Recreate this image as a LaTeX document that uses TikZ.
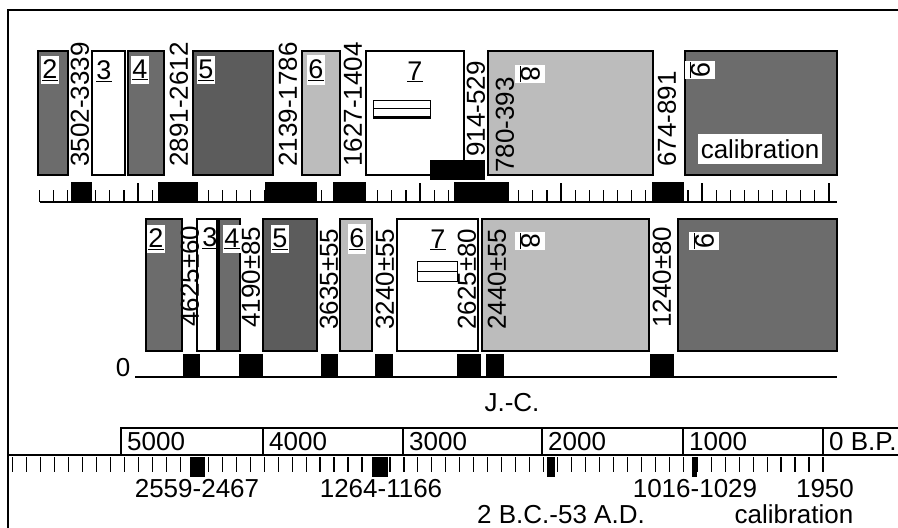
\documentclass[tikz,border=0pt]{standalone}
\usepackage{fontspec}
\setmainfont{Liberation Sans}
\definecolor{shadedark}{RGB}{108, 108, 108}
\definecolor{shadedeep}{RGB}{92, 92, 92}
\definecolor{shadelight}{RGB}{188, 188, 188}
\usepackage{tikz}

\begin{document}
\begin{tikzpicture}[x=1pt, y=-1pt, every node/.style={font=\fontsize{26}{28}\selectfont, inner sep=0pt},
    numlabel/.style={font=\fontsize{27}{30}\selectfont, fill=white, inner xsep=1pt, inner ysep=4pt},
    datelabel/.style={rotate=90, anchor=west}, rowbox/.style={line width=1.5pt}]
        \useasboundingbox (0,0) rectangle (898,528);
        \draw[line width=2pt] (8,528) -- (8,10) -- (898,10);
        % calendar row
        \foreach \xa/\xb/\col in {38/68/shadedark,92/125/white,128/164/shadedark,193/273/shadedeep,302/340/shadelight,366/464/white,488/653/shadelight,685/837/shadedark} { \draw[rowbox,fill=\col] (\xa,51) rectangle (\xb,175); }
        \node[numlabel] (t2) at (50,70) {\underline{2}};
        \node[numlabel,fill=none] (t3) at (104,71) {\underline{3}};
        \node[numlabel] (t4) at (140,70) {\underline{4}};
        \node[numlabel] (t5) at (206,70) {\underline{5}};
        \node[numlabel] (t6) at (316,70) {\underline{6}};
        \node[numlabel,fill=none] (t7) at (415,72) {\underline{7}};
        \node[numlabel,rotate=-90] (t8) at (530,74) {\underline{8}};
        \node[numlabel,rotate=-90] (t9) at (700,70) {\underline{9}};
        \draw[line width=1pt] (373,100) rectangle (430,118); \draw[line width=1pt] (373,108) -- (430,108); \draw[line width=2.5pt] (373,117) -- (430,117);
        \node[fill=white, inner xsep=3pt, inner ysep=5pt] (calib) at (760,149) {calibration};
        \node[datelabel] (d1) at (80,167) {3502-3339};
        \node[datelabel] (d2) at (179,167) {2891-2612};
        \node[datelabel] (d3) at (288,167) {2139-1786};
        \node[datelabel] (d4) at (353,167) {1627-1404};
        \node[datelabel] (d5) at (476,157) {914-529};
        \node[datelabel] (d6) at (505,173) {780-393};
        \node[datelabel] (d7) at (667,167) {674-891};
        \fill (430,160) rectangle (485,180);
        \draw[line width=1.5pt] (40,202) -- (837,202);
        \foreach \k in {-37,...,19} { \draw[line width=1.2pt] ({561+14.1*\k},202) -- ++(0,-12); }
        \foreach \x in {138,279,420,561,702,829} { \draw[line width=1.2pt] (\x,202) -- ++(0,-19); }
        \foreach \xa/\xb in {71/92,158/198,265/317,333/366,454/509,652/684} { \fill (\xa,182) rectangle (\xb,203); }
        % radiocarbon row
        \foreach \xa/\xb/\col in {146/182/shadedark,197/217/white,219/240/shadedark,263/317/shadedeep,340/372/shadelight,397/478/white,482/649/shadelight,678/837/shadedark} { \draw[rowbox,fill=\col] (\xa,219) rectangle (\xb,351); }
        \node[numlabel] (m2) at (156,239) {\underline{2}};
        \node[numlabel,fill=none] (m3) at (210,238) {\underline{3}};
        \node[numlabel] (m4) at (232,239) {\underline{4}};
        \node[numlabel] (m5) at (280,239) {\underline{5}};
        \node[numlabel] (m6) at (357,239) {\underline{6}};
        \node[numlabel,fill=none] (m7) at (438,240) {\underline{7}};
        \node[numlabel,rotate=-90] (m8) at (530,241) {\underline{8}};
        \node[numlabel,rotate=-90] (m9) at (704,241) {\underline{9}};
        \draw[line width=1pt] (417,261) rectangle (457,281); \draw[line width=1pt] (417,271) -- (457,271);
        \node[datelabel] (r1) at (190,327) {4625±60};
        \node[datelabel] (r2) at (251,328) {4190±85};
        \node[datelabel] (r3) at (329,330) {3635±55};
        \node[datelabel] (r4) at (385,330) {3240±55};
        \node[datelabel] (r5) at (467,330) {2625±80};
        \node[datelabel] (r6) at (497,330) {2440±55};
        \node[datelabel] (r7) at (662,328) {1240±80};
        \node (zero) at (123,368) {0};
        \draw[line width=2pt] (135,377) -- (837,377);
        \foreach \xa/\xb in {183/200,239/263,321/338,375/393,457/481,486/504,650/674} { \fill (\xa,354) rectangle (\xb,377); }
        \node (jc) at (512,403) {J.-C.};
        % B.P. scale
        \draw[line width=1.2pt] (121,455) -- (121,428) -- (898,428);
        \foreach \x/\yr in {121/5000,263/4000,403/3000,542/2000,683/1000,823/0 B.P.} { \draw[line width=1.2pt] (\x,428) -- (\x,455); \node[anchor=west] at (\x+6,442) {\yr}; }
        \draw[line width=2.5pt] (8,455) -- (898,455);
        \foreach \k in {0,...,58} { \draw[line width=1.2pt] ({823-13.97*\k},457) -- ++(0,15); }
        \foreach \xa/\xb in {190/205,372/388,547/555,692/697} { \fill (\xa,457) rectangle (\xb,477); }
        \node[anchor=base] (c1) at (197,497) {2559-2467};
        \node[anchor=base] (c2) at (381,497) {1264-1166};
        \node[anchor=base] (c3) at (695,497) {1016-1029};
        \node[anchor=base] (c4) at (825,497) {1950};
        \node[anchor=base] (c5) at (561,523) {2 B.C.-53 A.D.};
        \node[anchor=base] (c6) at (794,523) {calibration};
      \end{tikzpicture}
\end{document}
